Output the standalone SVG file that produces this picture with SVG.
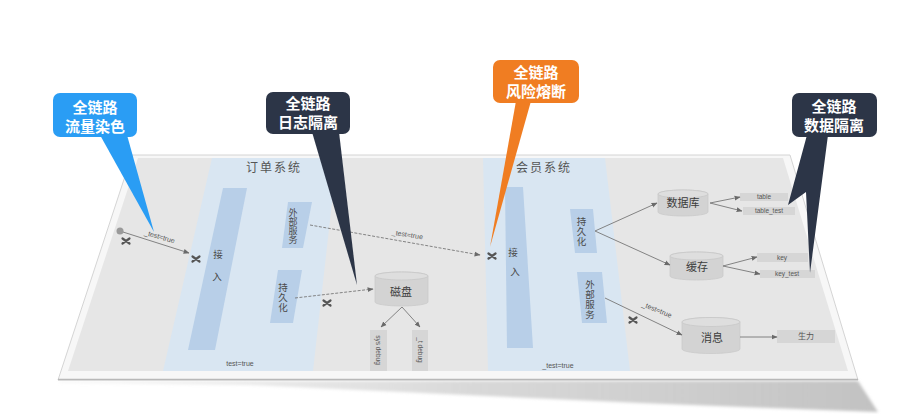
<svg xmlns="http://www.w3.org/2000/svg" width="911" height="414" viewBox="0 0 911 414">
<defs>
<linearGradient id="shadowGrad" x1="0" y1="0" x2="1" y2="0">
<stop offset="0" stop-color="#d8d8d8" stop-opacity="0.2"/>
<stop offset="0.5" stop-color="#cfcfcf" stop-opacity="0.8"/>
<stop offset="1" stop-color="#c2c2c2"/>
</linearGradient>
<filter id="blur" x="-5%" y="-50%" width="110%" height="200%"><feGaussianBlur stdDeviation="1.5"/></filter>
<marker id="arr" viewBox="0 0 10 10" refX="9" refY="5" markerWidth="6" markerHeight="6" orient="auto" markerUnits="userSpaceOnUse">
<path d="M0,1 L10,5 L0,9 z" fill="#6a6a6a"/>
</marker>
<g id="cross">
<path d="M-3.5,-2.5 L3.5,2.5 M-3.5,2.5 L3.5,-2.5" stroke="#555" stroke-width="2.2" stroke-linecap="round"/>
</g>
<style>
.call{font-family:"Noto Sans CJK SC","Noto Sans",sans-serif;font-size:15px;font-weight:700;fill:#fff;text-anchor:middle;}
.title{font-family:"Noto Sans CJK SC","Noto Sans",sans-serif;font-size:12px;fill:#555;text-anchor:middle;letter-spacing:2px;}
.vt{font-family:"Noto Sans CJK SC","Noto Sans",sans-serif;font-size:9.5px;fill:#4a4a4a;text-anchor:middle;}
.vv{font-family:"Noto Sans CJK SC","Noto Sans",sans-serif;font-size:9.5px;fill:#4a4a4a;writing-mode:tb;letter-spacing:0.5px;}
.cyl{fill:#d3d3d3;stroke:#cacaca;stroke-width:0.8;}
.cyltop{fill:#dedede;stroke:#c8c8c8;stroke-width:0.8;}
.ct{font-family:"Noto Sans CJK SC","Noto Sans",sans-serif;font-size:11px;fill:#3c3c3c;text-anchor:middle;}
.lab{font-family:"Liberation Sans",Arial,sans-serif;font-size:7px;fill:#555;text-anchor:middle;}
.small{fill:#d6d6d6;}
.st{font-family:"Liberation Sans",Arial,sans-serif;font-size:6.5px;fill:#555;text-anchor:middle;}
.bar{fill:#b8cfe8;}
.lane{fill:#d9e6f2;}
.ln{stroke:#777;stroke-width:0.9;fill:none;}
.dash{stroke:#777;stroke-width:0.9;fill:none;stroke-dasharray:3 1.5;}
</style>
</defs>
<rect width="911" height="414" fill="#ffffff"/>
<!-- plane -->
<g id="plane">
<polygon points="58,381 858,381 878,412 640,403 250,385 60,383" fill="url(#shadowGrad)" filter="url(#blur)"/>
<polygon points="132,155 790,155 858,380 58,380" fill="#f7f7f7" stroke="#d4d4d4" stroke-width="1"/>
<line x1="58" y1="379.5" x2="858" y2="379.5" stroke="#b8b8b8" stroke-width="1.5"/>
<polygon points="138,158 783,158 848,371 68,371" fill="#e6e6e6"/>
</g>
<!-- lanes -->
<g id="lane-order">
<polygon class="lane" points="212,158 337,158 313,371 163,371"/>
<text class="title" x="274" y="172">订单系统</text>
<text class="lab" x="240" y="366">test=true</text>
</g>
<g id="lane-member">
<polygon class="lane" points="483,158 605,158 630,371 488,371"/>
<text class="title" x="544" y="172">会员系统</text>
<text class="lab" x="558" y="368">_test=true</text>
</g>
<!-- order nodes -->
<g id="order-entry">
<polygon class="bar" points="223,188 247,188 215,350 188,350"/>
<text class="vt" x="218" y="258">接</text>
<text class="vt" x="217" y="280">入</text>
</g>
<g id="order-external">
<polygon class="bar" points="288,202 312,202 303,248 282,248"/>
<text class="vv" x="293" y="208.5" style="font-size:9px;letter-spacing:0">外部服务</text>
</g>
<g id="order-persist">
<polygon class="bar" points="278,270 302,270 293,323 270,323"/>
<text class="vv" x="283" y="282.5">持久化</text>
</g>
<g id="disk">
<path class="cyl" d="M375,276 a26.5,4 0 0 1 53,0 v26 a26.5,4 0 0 1 -53,0 z"/>
<ellipse class="cyltop" cx="401.5" cy="276" rx="26.5" ry="4"/>
<text class="ct" x="401" y="296">磁盘</text>
</g>
<g id="log-normal">
<rect class="small" x="370" y="330" width="17" height="41"/>
<text class="st" transform="translate(378.5,350) rotate(90)" y="2.3">sys debug</text>
</g>
<g id="log-test">
<rect class="small" x="412" y="330" width="16" height="41"/>
<text class="st" transform="translate(420,350) rotate(90)" y="2.3">_t debug</text>
</g>
<!-- member nodes -->
<g id="member-entry">
<polygon class="bar" points="505,187 523,187 533,348 507,348"/>
<text class="vt" x="513" y="256">接</text>
<text class="vt" x="515" y="275">入</text>
</g>
<g id="member-persist">
<polygon class="bar" points="570,209 593,209 597,253 575,253"/>
<text class="vv" x="581.5" y="217">持久化</text>
</g>
<g id="member-external">
<polygon class="bar" points="577,272 602,272 607,323 582,323"/>
<text class="vv" x="590" y="280">外部服务</text>
</g>
<g id="db">
<path class="cyl" d="M658,194 a25,4 0 0 1 50,0 v18 a25,4 0 0 1 -50,0 z"/>
<ellipse class="cyltop" cx="683" cy="194" rx="25" ry="4"/>
<text class="ct" x="683" y="207">数据库</text>
</g>
<g id="table">
<rect class="small" x="740" y="193" width="48" height="8"/>
<text class="st" x="764" y="199.3">table</text>
</g>
<g id="table-test">
<rect class="small" x="743" y="207" width="52" height="8"/>
<text class="st" x="769" y="213.3">table_test</text>
</g>
<g id="cache">
<path class="cyl" d="M670,256 a26.5,4 0 0 1 53,0 v20 a26.5,4 0 0 1 -53,0 z"/>
<ellipse class="cyltop" cx="696.5" cy="256" rx="26.5" ry="4"/>
<text class="ct" x="697" y="271">缓存</text>
</g>
<g id="key">
<rect class="small" x="757" y="253" width="51" height="9"/>
<text class="st" x="782" y="259.8">key</text>
</g>
<g id="key-test">
<rect class="small" x="760" y="270" width="55" height="8"/>
<text class="st" x="787" y="276.3">key_test</text>
</g>
<g id="mq">
<path class="cyl" d="M682,322 a29,4.5 0 0 1 58,0 v27 a29,4.5 0 0 1 -58,0 z"/>
<ellipse class="cyltop" cx="711" cy="322" rx="29" ry="4.5"/>
<text class="ct" x="712" y="342">消息</text>
</g>
<g id="topic">
<rect class="small" x="777" y="330" width="58" height="13"/>
<text class="st" x="806" y="339" style="font-family:'Noto Sans CJK SC',sans-serif;font-size:8px">生力</text>
</g>
<!-- connectors -->
<g id="connectors">
<circle cx="120" cy="231" r="3.5" fill="#9a9a9a"/>
<line class="ln" x1="123" y1="232" x2="189" y2="253" marker-end="url(#arr)"/>
<text class="lab" transform="translate(159,239) rotate(16)">_test=true</text>
<use href="#cross" x="126" y="241"/>
<use href="#cross" x="196" y="259"/>
<line class="dash" x1="310" y1="225" x2="480" y2="255" marker-end="url(#arr)"/>
<text class="lab" transform="translate(407,237) rotate(9)">_test=true</text>
<use href="#cross" x="492" y="256"/>
<line class="dash" x1="295" y1="298" x2="373" y2="289" marker-end="url(#arr)"/>
<use href="#cross" x="327" y="303"/>
<path class="ln" d="M402,307 L381,327" marker-end="url(#arr)"/>
<path class="ln" d="M402,307 L420,327" marker-end="url(#arr)"/>
<path class="ln" d="M595,231 L657,203" marker-end="url(#arr)"/>
<path class="ln" d="M595,231 L670,265" marker-end="url(#arr)"/>
<path class="ln" d="M710,203 L740,197" marker-end="url(#arr)"/>
<path class="ln" d="M710,203 L742,211" marker-end="url(#arr)"/>
<path class="ln" d="M723,266 L757,257" marker-end="url(#arr)"/>
<path class="ln" d="M723,266 L760,274" marker-end="url(#arr)"/>
<line class="ln" x1="605" y1="298" x2="682" y2="335" marker-end="url(#arr)"/>
<text class="lab" transform="translate(656,312) rotate(22)">_test=true</text>
<use href="#cross" x="633" y="320"/>
<line class="ln" x1="740" y1="337" x2="777" y2="337" marker-end="url(#arr)"/>
</g>
<!-- callouts -->
<g id="callout-dye">
<polygon points="100,135 127,135 154,232" fill="#2a9df4"/>
<rect x="53" y="93" width="84" height="44" rx="7" fill="#2a9df4"/>
<text class="call" x="95" y="112.5">全链路</text>
<text class="call" x="95" y="131.5">流量染色</text>
</g>
<g id="callout-log">
<polygon points="312,132 339,132 357,285" fill="#2c3547"/>
<rect x="266" y="92" width="84" height="42" rx="7" fill="#2c3547"/>
<text class="call" x="308" y="108.5">全链路</text>
<text class="call" x="308" y="127.5">日志隔离</text>
</g>
<g id="callout-fuse">
<polygon points="516,101 531,101 490,247" fill="#f07d22"/>
<rect x="493" y="60" width="86" height="43" rx="7" fill="#f07d22"/>
<text class="call" x="536" y="77.5">全链路</text>
<text class="call" x="536" y="96.5">风险熔断</text>
</g>
<g id="callout-data">
<polygon points="807,135 828,135 810,273 806,192 788,205" fill="#2c3547"/>
<rect x="792" y="93" width="85" height="44" rx="7" fill="#2c3547"/>
<text class="call" x="834" y="111.5">全链路</text>
<text class="call" x="834" y="130.5">数据隔离</text>
</g>
</svg>
